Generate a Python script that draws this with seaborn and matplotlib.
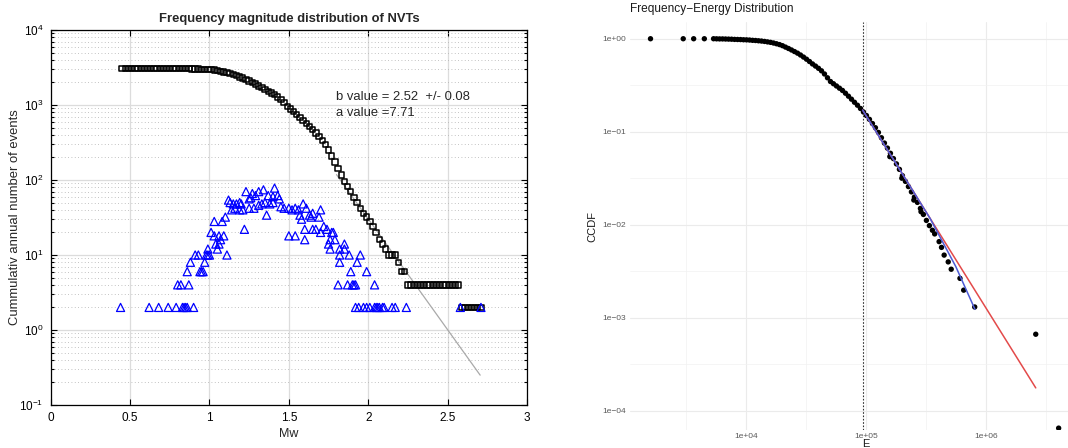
import numpy as np
import matplotlib
matplotlib.use("Agg")
import matplotlib.pyplot as plt
from matplotlib.ticker import FixedLocator, FixedFormatter, LogLocator, NullFormatter
import seaborn as sns

sns.set_style("ticks")
plt.rcParams["font.family"] = ["Liberation Sans", "DejaVu Sans"]
plt.rcParams["mathtext.fontset"] = "custom"
plt.rcParams["mathtext.rm"] = "Liberation Sans"
plt.rcParams["mathtext.it"] = "Liberation Sans:italic"
plt.rcParams["mathtext.bf"] = "Liberation Sans:bold"

# ---------------------------------------------------------------- left panel
# magnitude bins (0.02 wide) and cumulative annual number of events
mw_bins = np.round(np.arange(0.45, 2.72, 0.02), 2)
cum_events = [
    3084, 3082, 3082, 3082, 3082, 3082, 3082, 3082, 3082, 3080,
    3080, 3080, 3078, 3078, 3078, 3076, 3076, 3074, 3066, 3060,
    3050, 3040, 3030, 3020, 3008, 2996, 2984, 2968,
    2950, 2920, 2884, 2818, 2754, 2692, 2630, 2542, 2454, 2372,
    2290, 2188, 2090, 1996, 1906, 1800, 1700, 1600, 1520, 1450,
    1370, 1280, 1180, 1070, 955,
    880, 812, 740, 676, 616, 562, 512, 468, 422, 380,
    338, 296, 252, 208, 174, 142, 116, 96, 82, 70,
    58, 50, 42, 36, 32,
    28, 24, 20, 16, 14, 12, 10, 10, 10, 8, 6, 6,
    4, 4, 4, 4, 4, 4, 4, 4, 4, 4, 4, 4, 4, 4, 4, 4, 4,
    2, 2, 2, 2, 2, 2, 2,
]

# non-cumulative annual number of events per magnitude
inc_mw = [
    0.44, 0.62, 0.68, 0.74, 0.79, 0.83, 0.84, 0.85, 0.86, 0.90,
    0.80, 0.82, 0.87, 0.86, 0.94, 0.95, 0.96, 0.88, 0.97,
    0.91, 0.93, 0.98, 0.99, 1.00, 1.11, 0.99, 1.05,
    1.04, 1.07, 1.06, 1.01, 1.03, 1.06, 1.09, 1.03, 1.08, 1.10,
    1.12, 1.13, 1.15, 1.17, 1.19, 1.20, 1.14, 1.16, 1.19, 1.21,
    1.22, 1.23, 1.27, 1.31, 1.34, 1.41,
    1.25, 1.26, 1.29, 1.37, 1.40, 1.43, 1.44,
    1.25, 1.28, 1.31, 1.33, 1.35, 1.38, 1.40, 1.36,
    1.45, 1.47, 1.50, 1.52, 1.54, 1.56,
    1.59, 1.61, 1.63, 1.64, 1.57, 1.58, 1.65, 1.70, 1.69,
    1.50, 1.54, 1.60, 1.60, 1.65, 1.67, 1.70,
    1.72, 1.74, 1.77, 1.78, 1.79, 1.76, 1.75,
    1.76, 1.82, 1.85, 1.85, 1.82, 1.88, 1.95, 1.93, 1.82,
    1.89, 1.99, 1.81, 1.87, 1.90, 1.91, 1.92, 2.04,
    1.92, 1.94, 1.97, 1.99, 2.01, 2.04, 2.05, 2.06, 2.07, 2.09,
    2.10, 2.15, 2.17, 2.24, 2.58, 2.71,
]
inc_events = [
    2, 2, 2, 2, 2, 2, 2, 2, 2, 2,
    4, 4, 4, 6, 6, 6, 6, 8, 8,
    10, 10, 10, 10, 10, 10, 12, 12,
    14, 16, 14, 20, 18, 18, 18, 28, 28, 32,
    54, 50, 48, 48, 50, 48, 40, 42, 40, 40,
    22, 70, 66, 70, 74, 78,
    56, 58, 62, 62, 60, 62, 56,
    42, 42, 46, 48, 50, 48, 50, 34,
    44, 42, 42, 40, 42, 40,
    48, 42, 34, 32, 34, 30, 36, 40, 32,
    18, 18, 16, 22, 22, 22, 20,
    24, 22, 20, 20, 16, 16, 14,
    12, 12, 14, 12, 10, 10, 10, 8, 8,
    6, 6, 4, 4, 4, 4, 4, 4,
    2, 2, 2, 2, 2, 2, 2, 2, 2, 2,
    2, 2, 2, 2, 2, 2,
]

# Gutenberg-Richter fit segment
fit_mw = [1.80, 2.705]
fit_events = [118, 0.25]

# ---------------------------------------------------------------- right panel
# empirical CCDF of event energy (log10 values read on the log axes)
energy_log10 = [
    3.204, 3.477, 3.564, 3.653,
    3.730, 3.755, 3.780, 3.805, 3.830, 3.855, 3.880, 3.905, 3.930, 3.955,
    3.980, 4.005, 4.030, 4.055, 4.080, 4.105, 4.130, 4.155, 4.180, 4.205,
    4.230, 4.255, 4.280, 4.305, 4.330, 4.355, 4.380, 4.405, 4.430, 4.455,
    4.480, 4.505, 4.530, 4.555, 4.580, 4.605, 4.630, 4.655, 4.680, 4.705,
    4.730, 4.755, 4.780, 4.805, 4.830, 4.855, 4.880, 4.905, 4.930, 4.955,
    4.980, 5.005, 5.030, 5.055, 5.080, 5.105, 5.130, 5.155, 5.180, 5.205,
    5.230, 5.255, 5.280, 5.305, 5.330, 5.355, 5.380, 5.405, 5.430, 5.455,
    5.480, 5.505, 5.530, 5.555,
    5.200, 5.300, 5.400, 5.460,
    5.574, 5.611, 5.631, 5.653, 5.687, 5.712, 5.785, 5.816, 5.908,
    6.417, 6.608,
]
ccdf_log10 = [
    0.000, 0.000, 0.000, 0.000,
    0.000, -0.001, -0.002, -0.002, -0.003, -0.004, -0.005, -0.007, -0.008, -0.009,
    -0.011, -0.012, -0.014, -0.017, -0.019, -0.022, -0.025, -0.029, -0.034, -0.039,
    -0.046, -0.054, -0.063, -0.075, -0.090, -0.105, -0.121, -0.138, -0.155, -0.175,
    -0.197, -0.220, -0.245, -0.271, -0.294, -0.318, -0.345, -0.379, -0.420, -0.460,
    -0.484, -0.508, -0.532, -0.556, -0.586, -0.618, -0.650, -0.683, -0.715, -0.750,
    -0.788, -0.826, -0.867, -0.912, -0.957, -1.008, -1.065, -1.122, -1.176, -1.232,
    -1.289, -1.346, -1.405, -1.473, -1.534, -1.590, -1.647, -1.703, -1.760, -1.825,
    -1.890, -1.954, -2.010, -2.060,
    -1.268, -1.500, -1.735, -1.860,
    -2.099, -2.182, -2.244, -2.327, -2.400, -2.479, -2.577, -2.704, -2.885,
    -3.178, -4.188,
]

# fitted power law (red) and alternative fit (blue) above the threshold
xmin_energy = 94000
powerlaw_log10_e = [4.973, 6.417]
powerlaw_log10_c = [-0.767, -3.755]
alt_log10_e = [4.973, 5.250, 5.535, 5.750, 5.910]
alt_log10_c = [-0.767, -1.340, -1.931, -2.450, -2.910]

energy = 10 ** np.array(energy_log10)
ccdf = 10 ** np.array(ccdf_log10)

W, H = 1068, 448
fig = plt.figure(figsize=(W / 100, H / 100), dpi=100)

# ---------------------------------------------------------------- draw left
ax1 = fig.add_axes([50.7 / W, (H - 405) / H, 476.3 / W, 375 / H])
sns.lineplot(x=fit_mw, y=fit_events, ax=ax1, color="#a9a9a9", linewidth=0.9,
             estimator=None, sort=False, zorder=2)
sns.scatterplot(x=mw_bins, y=cum_events, ax=ax1, marker="s", s=15,
                facecolor="none", edgecolor="black", linewidth=1.1, zorder=3)
sns.scatterplot(x=inc_mw, y=inc_events, ax=ax1, marker="^", s=34,
                facecolor="none", edgecolor="#0000ff", linewidth=0.9, zorder=4)
ax1.set_yscale("log")
ax1.set_xlim(0, 3)
ax1.set_ylim(0.1, 1e4)
ax1.xaxis.set_major_locator(FixedLocator([0, 0.5, 1, 1.5, 2, 2.5, 3]))
ax1.xaxis.set_major_formatter(FixedFormatter(["0", "0.5", "1", "1.5", "2", "2.5", "3"]))
ax1.yaxis.set_major_locator(LogLocator(base=10, numticks=10))
ax1.yaxis.set_minor_locator(LogLocator(base=10, subs=np.arange(2, 10), numticks=30))
ax1.yaxis.set_minor_formatter(NullFormatter())
ax1.set_axisbelow(True)
ax1.grid(which="major", color="#dcdcdc", linewidth=0.9, linestyle="-")
ax1.grid(which="minor", axis="y", color="#b0b0b0", linewidth=0.6, linestyle=(0, (1, 3)))
ax1.tick_params(which="both", direction="in", top=True, right=True,
                colors="black", labelsize=8.5, width=0.8, pad=5)
ax1.tick_params(which="major", length=4)
ax1.tick_params(which="minor", length=2)
for sp in ax1.spines.values():
    sp.set_visible(True)
    sp.set_color("black")
    sp.set_linewidth(0.9)
ax1.set_xlabel("Mw", fontsize=9, labelpad=3)
ax1.set_ylabel("Cummulativ annual number of events", fontsize=9.4)
ax1.yaxis.set_label_coords((21 - 50.7) / 476.3, 0.5)
ax1.text(1.80, 1280, "b value = 2.52  +/- 0.08", fontsize=9.4, ha="left", va="center")
ax1.text(1.80, 775, "a value =7.71", fontsize=9.4, ha="left", va="center")
fig.text(289 / W, 1 - 19 / H, "Frequency magnitude distribution of NVTs",
         fontsize=9.4, fontweight="bold", ha="center", va="center")

# ---------------------------------------------------------------- draw right
ax2 = fig.add_axes([630 / W, (H - 430) / H, 438 / W, 408 / H])
ax2.set_xscale("log")
ax2.set_yscale("log")
ax2.axvline(xmin_energy, color="#333333", linewidth=0.8, linestyle=(0, (1.5, 1.5)), zorder=2)
sns.scatterplot(x=energy, y=ccdf, ax=ax2, s=15, color="black", edgecolor="none",
                linewidth=0, zorder=3)
sns.lineplot(x=10 ** np.array(powerlaw_log10_e), y=10 ** np.array(powerlaw_log10_c),
             ax=ax2, color="#e34a4a", linewidth=1.1, estimator=None, sort=False, zorder=4)
sns.lineplot(x=10 ** np.array(alt_log10_e), y=10 ** np.array(alt_log10_c),
             ax=ax2, color="#4d5bd6", linewidth=1.1, estimator=None, sort=False, zorder=5)
ax2.set_xlim(10 ** 3.033, 10 ** 6.686)
ax2.set_ylim(10 ** -4.208, 10 ** 0.18)
ax2.xaxis.set_major_locator(FixedLocator([1e4, 1e5, 1e6]))
ax2.xaxis.set_major_formatter(FixedFormatter(["1e+04", "1e+05", "1e+06"]))
ax2.xaxis.set_minor_locator(FixedLocator([10 ** 3.5, 10 ** 4.5, 10 ** 5.5, 10 ** 6.5]))
ax2.xaxis.set_minor_formatter(NullFormatter())
ax2.yaxis.set_major_locator(FixedLocator([1, 1e-1, 1e-2, 1e-3, 1e-4]))
ax2.yaxis.set_major_formatter(FixedFormatter(["1e+00", "1e\u221201", "1e\u221202",
                                              "1e\u221203", "1e\u221204"]))
ax2.yaxis.set_minor_locator(FixedLocator([10 ** -0.5, 10 ** -1.5, 10 ** -2.5, 10 ** -3.5]))
ax2.yaxis.set_minor_formatter(NullFormatter())
ax2.set_axisbelow(True)
ax2.grid(which="major", color="#ebebeb", linewidth=0.8)
ax2.grid(which="minor", color="#f2f2f2", linewidth=0.5)
for sp in ax2.spines.values():
    sp.set_visible(False)
ax2.tick_params(which="both", length=0, labelsize=6, labelcolor="#5a5a5a")
ax2.tick_params(axis="y", pad=3)
ax2.tick_params(axis="x", pad=2)
ax2.set_xlabel("")
ax2.set_ylabel("")
fig.text(592 / W, 1 - 226 / H, "CCDF", rotation=90, fontsize=8,
         ha="center", va="center", color="#1a1a1a")
fig.text(865.8 / W, 1 - 444 / H, "E", fontsize=8, ha="center", va="center",
         color="#1a1a1a")
fig.text(630 / W, 1 - 9.3 / H, "Frequency\u2212Energy Distribution", fontsize=8.6,
         ha="left", va="center", color="#1a1a1a")

fig.savefig("out.png", dpi=100)
